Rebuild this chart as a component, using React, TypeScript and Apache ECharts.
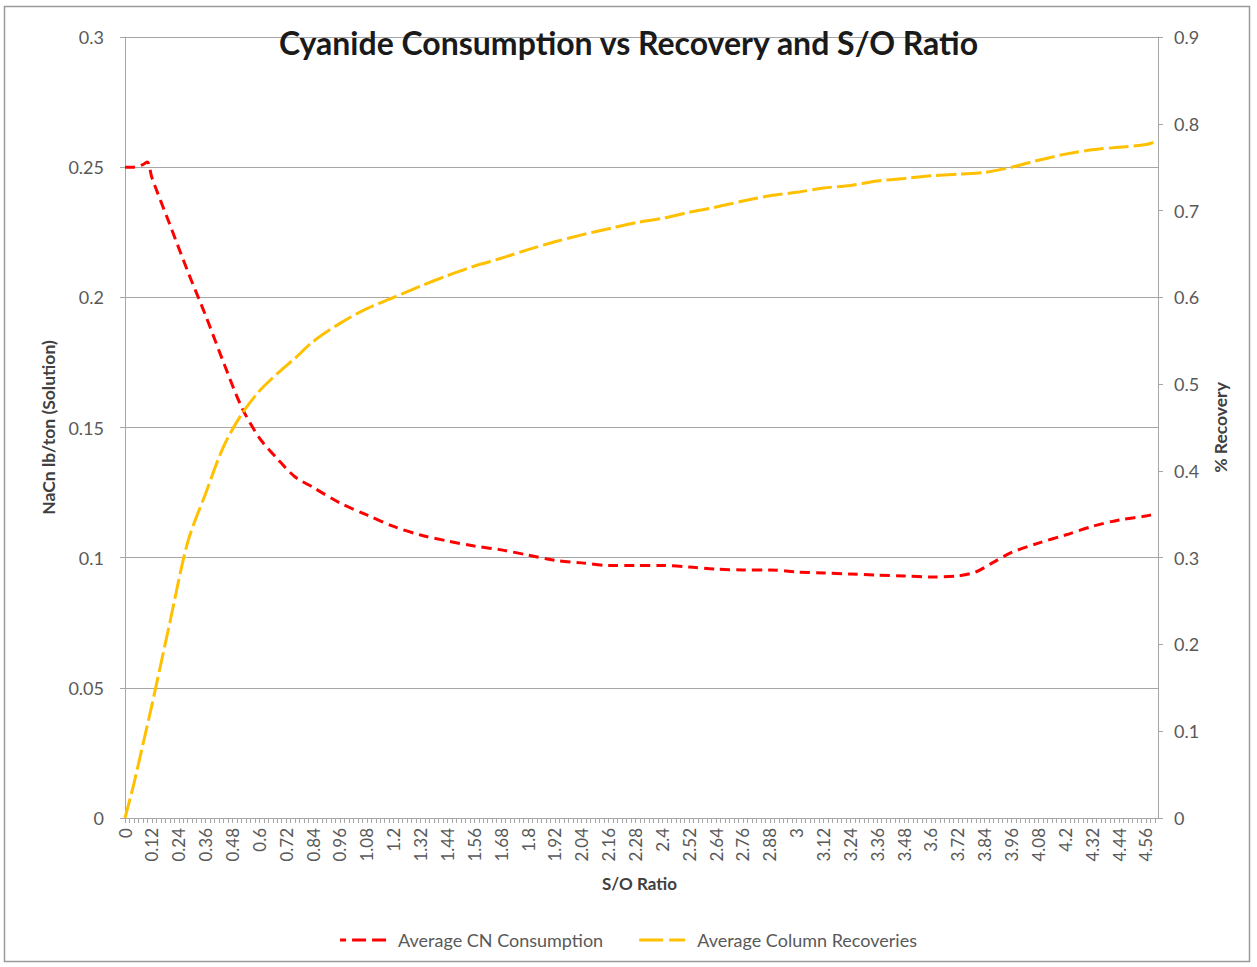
import React, { useEffect, useRef } from "react";
import * as echarts from "echarts";

const TITLE = "Cyanide Consumption vs Recovery and S/O Ratio";
const X_NAME = "S/O Ratio";
const Y_LEFT_NAME = "NaCn lb/ton (Solution)";
const Y_RIGHT_NAME = "% Recovery";
const SERIES_NAMES = ["Average CN Consumption", "Average Column Recoveries"];

// x-axis tick labels (S/O ratio)
const X_LABELS = [
  0, 0.12, 0.24, 0.36, 0.48, 0.6, 0.72, 0.84, 0.96, 1.08, 1.2, 1.32, 1.44, 1.56, 1.68, 1.8,
  1.92, 2.04, 2.16, 2.28, 2.4, 2.52, 2.64, 2.76, 2.88, 3, 3.12, 3.24, 3.36, 3.48, 3.6, 3.72,
  3.84, 3.96, 4.08, 4.2, 4.32, 4.44, 4.56,
];

// Average CN Consumption (left axis)
const CN_X = [
  0, 0.04, 0.08, 0.1, 0.12, 0.2, 0.28, 0.36, 0.44, 0.52, 0.6, 0.68, 0.76, 0.84, 0.96, 1.08,
  1.2, 1.32, 1.44, 1.56, 1.68, 1.8, 1.92, 2.04, 2.16, 2.28, 2.4, 2.52, 2.64, 2.76, 2.88, 3.0,
  3.12, 3.24, 3.36, 3.48, 3.6, 3.72, 3.8, 3.88, 3.96, 4.08, 4.2, 4.32, 4.44, 4.56, 4.6,
];
const CN_Y = [
  0.25, 0.25, 0.251, 0.252, 0.246, 0.228, 0.21, 0.193, 0.175, 0.158, 0.146, 0.138, 0.131,
  0.127, 0.121, 0.1164, 0.112, 0.1087, 0.1064, 0.1045, 0.103, 0.101, 0.099, 0.098, 0.097,
  0.097, 0.097, 0.0964, 0.0956, 0.0953, 0.0953, 0.0945, 0.0941, 0.0937, 0.0933, 0.093,
  0.0926, 0.093, 0.0945, 0.0983, 0.102, 0.1056, 0.1087, 0.112, 0.1145, 0.116, 0.1168,
];

// Average Column Recoveries (right axis)
const REC_X = [
  0, 0.04, 0.08, 0.12, 0.2, 0.28, 0.36, 0.44, 0.52, 0.6, 0.68, 0.76, 0.84, 0.96, 1.08, 1.2,
  1.32, 1.44, 1.56, 1.68, 1.8, 1.92, 2.04, 2.16, 2.28, 2.4, 2.52, 2.64, 2.76, 2.88, 3.0, 3.12,
  3.24, 3.36, 3.48, 3.6, 3.72, 3.84, 3.96, 4.08, 4.2, 4.32, 4.44, 4.56, 4.6,
];
const REC_Y = [
  0, 0.04, 0.085, 0.13, 0.225, 0.318, 0.374, 0.428, 0.465, 0.492, 0.512, 0.53, 0.549, 0.57,
  0.587, 0.6, 0.613, 0.625, 0.636, 0.645, 0.655, 0.664, 0.672, 0.679, 0.686, 0.691, 0.698,
  0.704, 0.711, 0.717, 0.721, 0.726, 0.729, 0.734, 0.737, 0.74, 0.742, 0.744, 0.75, 0.758,
  0.765, 0.77, 0.773, 0.776, 0.779,
];

const FONT = "Lato, 'Open Sans', sans-serif";
const TEXT_COLOR = "#595959";
const AXIS_COLOR = "#A6A6A6";
const RED = "#FF0000";
const GOLD = "#FFC000";

// dashed-line legend icons
const ICON_RED = "path://M0,0h6v3h-6z M12,0h14v3h-14z M32,0h14v3h-14z";
const ICON_GOLD = "path://M0,0h24v3h-24z M30,0h16v3h-16z";

export default function App() {
  const ref = useRef<HTMLDivElement>(null);

  useEffect(() => {
    document.body.style.margin = "0";
    if (!ref.current) return;
    const chart = echarts.init(ref.current, undefined, { renderer: "svg" });

    const minorTicks: number[] = [];
    for (let i = 0; i <= 230; i++) minorTicks.push(Math.round(i * 2) / 100);

    const option = {
      animation: false,
      backgroundColor: "#ffffff",
      textStyle: { fontFamily: FONT },
      title: {
        text: TITLE,
        left: "center",
        top: 21,
        textStyle: { fontFamily: FONT, fontSize: 32, fontWeight: "bold", color: "#1a1a1a" },
      },
      graphic: [
        {
          type: "rect",
          shape: { x: 4.5, y: 6.5, width: 1245, height: 955 },
          style: { fill: "none", stroke: "#9a9a9a", lineWidth: 1.5 },
          z: -1,
        },
      ],
      legend: {
        bottom: 13,
        left: "center",
        itemWidth: 46,
        itemHeight: 3,
        itemGap: 36,
        textStyle: { fontFamily: FONT, fontSize: 18, color: TEXT_COLOR, padding: [0, 0, 0, 7] },
        data: [
          { name: SERIES_NAMES[0], icon: ICON_RED, itemStyle: { color: RED } },
          { name: SERIES_NAMES[1], icon: ICON_GOLD, itemStyle: { color: GOLD } },
        ],
      },
      grid: { left: 121, right: 99, top: 37, bottom: 149 },
      xAxis: {
        type: "value",
        min: -0.018,
        max: 4.614,
        name: X_NAME,
        nameLocation: "middle",
        nameGap: 57,
        nameTextStyle: { fontFamily: FONT, fontSize: 17, fontWeight: "bold", color: "#404040" },
        axisLine: { show: true, lineStyle: { color: AXIS_COLOR, width: 1 } },
        axisTick: { show: true, length: 5, customValues: minorTicks, lineStyle: { color: AXIS_COLOR } },
        axisLabel: {
          customValues: X_LABELS,
          rotate: 90,
          fontSize: 17,
          color: TEXT_COLOR,
          margin: 10,
          fontFamily: FONT,
          formatter: (v: number) => String(+Number(v).toFixed(2)),
        },
        splitLine: { show: false },
      },
      yAxis: [
        {
          type: "value",
          min: 0,
          max: 0.3,
          interval: 0.05,
          name: Y_LEFT_NAME,
          nameLocation: "middle",
          nameGap: 53,
          nameRotate: 90,
          nameTextStyle: { fontFamily: FONT, fontSize: 17.5, fontWeight: "bold", color: "#404040" },
          axisLine: { show: true, lineStyle: { color: AXIS_COLOR } },
          axisTick: { show: true, length: 5, lineStyle: { color: AXIS_COLOR } },
          axisLabel: { fontSize: 18, color: TEXT_COLOR, margin: 17, fontFamily: FONT },
          splitLine: { show: true, lineStyle: { color: AXIS_COLOR, width: 1 } },
        },
        {
          type: "value",
          min: 0,
          max: 0.9,
          interval: 0.1,
          name: Y_RIGHT_NAME,
          nameLocation: "middle",
          nameGap: 53,
          nameRotate: 90,
          nameTextStyle: { fontFamily: FONT, fontSize: 17.5, fontWeight: "bold", color: "#404040" },
          axisLine: { show: true, lineStyle: { color: AXIS_COLOR } },
          axisTick: { show: true, length: 5, lineStyle: { color: AXIS_COLOR } },
          axisLabel: { fontSize: 18, color: TEXT_COLOR, margin: 16, fontFamily: FONT },
          splitLine: { show: false },
        },
      ],
      series: [
        {
          name: SERIES_NAMES[0],
          type: "line",
          yAxisIndex: 0,
          smooth: 0.3,
          showSymbol: false,
          symbol: "none",
          color: RED,
          lineStyle: { color: RED, width: 3, type: [10, 6] },
          data: CN_X.map((x, i) => [x, CN_Y[i]]),
        },
        {
          name: SERIES_NAMES[1],
          type: "line",
          yAxisIndex: 1,
          smooth: 0.3,
          showSymbol: false,
          symbol: "none",
          color: GOLD,
          lineStyle: { color: GOLD, width: 3, type: [20, 5] },
          data: REC_X.map((x, i) => [x, REC_Y[i]]),
        },
      ],
    };

    chart.setOption(option as any);
    return () => chart.dispose();
  }, []);

  return <div ref={ref} style={{ width: 1257, height: 967 }} />;
}
